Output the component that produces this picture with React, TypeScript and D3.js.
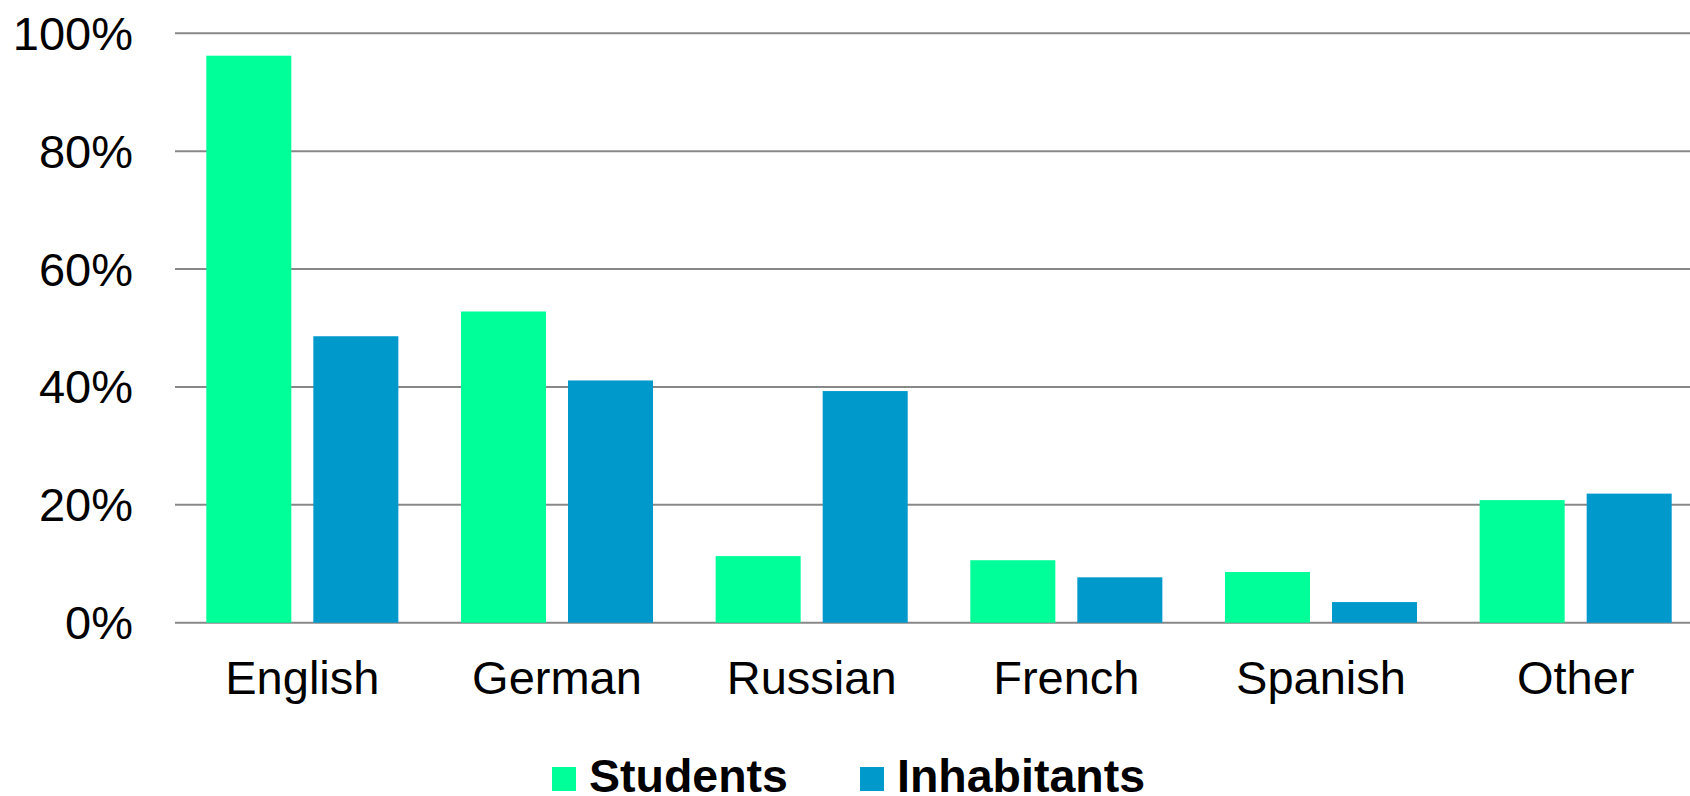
import { useEffect, useRef } from "react";
import * as d3 from "d3";

const languages = ["English", "German", "Russian", "French", "Spanish", "Other"];
const seriesNames = ["Students", "Inhabitants"];
const students = [96.2, 52.8, 11.3, 10.6, 8.6, 20.8];
const inhabitants = [48.6, 41.1, 39.3, 7.7, 3.5, 21.9];
const yTicks = [0, 20, 40, 60, 80, 100];
const colors = ["#00FF99", "#0099CC"];

const width = 1690;
const height = 796;

export default function App() {
  const svgRef = useRef<SVGSVGElement>(null);

  useEffect(() => {
    if (!svgRef.current) return;
    const svg = d3.select(svgRef.current);
    svg.selectAll("*").remove();

    const font = "'Liberation Sans', Arial, sans-serif";
    const left = 175;
    const right = 1703; // plot runs slightly past the crop
    const top = 33.3;
    const bottom = 622.7;

    const x0 = d3.scaleBand().domain(languages).range([left, right]);
    const x1 = d3
      .scaleBand()
      .domain(seriesNames)
      .range([0, x0.bandwidth()])
      .paddingInner(0.2056)
      .paddingOuter(0.2925);
    const y = d3.scaleLinear().domain([0, 100]).range([bottom, top]);

    // gridlines
    svg
      .append("g")
      .selectAll("line")
      .data(yTicks)
      .enter()
      .append("line")
      .attr("x1", left)
      .attr("x2", right)
      .attr("y1", (d) => y(d))
      .attr("y2", (d) => y(d))
      .attr("stroke", "#888888")
      .attr("stroke-width", 2);

    // y labels
    svg
      .append("g")
      .selectAll("text")
      .data(yTicks)
      .enter()
      .append("text")
      .attr("x", 133)
      .attr("y", (d) => y(d) + 16.5)
      .attr("text-anchor", "end")
      .attr("font-family", font)
      .attr("font-size", 47)
      .attr("fill", "#000")
      .text((d) => `${d}%`);

    // bars
    const values = [students, inhabitants];
    const groups = svg
      .append("g")
      .selectAll("g")
      .data(languages)
      .enter()
      .append("g")
      .attr("transform", (d) => `translate(${x0(d)},0)`);

    groups
      .selectAll("rect")
      .data((_, i) => seriesNames.map((s, k) => ({ s, v: values[k][i], k })))
      .enter()
      .append("rect")
      .attr("x", (d) => x1(d.s)!)
      .attr("width", x1.bandwidth())
      .attr("y", (d) => y(d.v))
      .attr("height", (d) => bottom - y(d.v))
      .attr("fill", (d) => colors[d.k]);

    // x labels
    svg
      .append("g")
      .selectAll("text")
      .data(languages)
      .enter()
      .append("text")
      .attr("x", (d) => x0(d)! + x0.bandwidth() / 2)
      .attr("y", 694)
      .attr("text-anchor", "middle")
      .attr("font-family", font)
      .attr("font-size", 47)
      .attr("fill", "#000")
      .text((d) => d);

    // legend
    const legendX = [552, 860];
    const legend = svg
      .append("g")
      .selectAll("g")
      .data(seriesNames)
      .enter()
      .append("g")
      .attr("transform", (_, i) => `translate(${legendX[i]},0)`);
    legend
      .append("rect")
      .attr("x", 0)
      .attr("y", 767)
      .attr("width", 24)
      .attr("height", 24)
      .attr("fill", (_, i) => colors[i]);
    legend
      .append("text")
      .attr("x", 37)
      .attr("y", 792)
      .attr("font-family", font)
      .attr("font-size", 46.5)
      .attr("font-weight", "bold")
      .attr("fill", "#000")
      .text((d) => d);
  }, []);

  return (
    <svg
      ref={svgRef}
      width={width}
      height={height}
      style={{ position: "absolute", left: 0, top: 0, background: "#fff" }}
    />
  );
}
